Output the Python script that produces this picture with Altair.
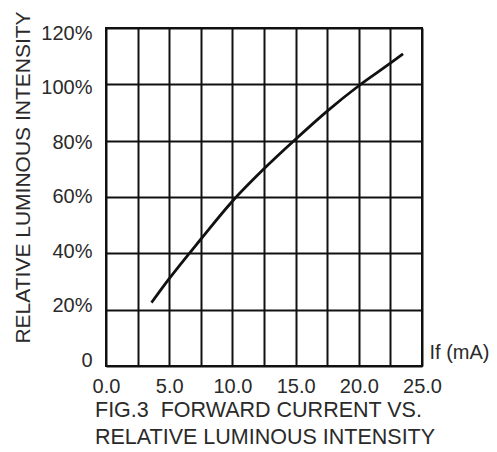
import altair as alt
import pandas as pd

# Curve
if_ma = [3.6, 5.0, 7.5, 10.0, 12.5, 15.0, 17.5, 20.0, 22.5, 23.5]
rel_intensity = [22.5, 31, 45, 58.5, 70, 80.5, 90.5, 99.5, 107.5, 110.8]

# Axis ticks
x_ticks = [0, 2.5, 5, 7.5, 10, 12.5, 15, 17.5, 20, 22.5, 25]
x_labelled = [0, 5, 10, 15, 20, 25]
y_ticks = [0, 20, 40, 60, 80, 100, 120]

x_title = "If (mA)"
y_title = "RELATIVE LUMINOUS INTENSITY"
caption = ["FIG.3\u00a0 FORWARD CURRENT VS.", "RELATIVE LUMINOUS INTENSITY"]

df = pd.DataFrame({"If": if_ma, "Rel": rel_intensity})

FONT = "Liberation Sans"
INK = "#111111"
TXT = "#2a2a2a"

x_label_expr = "indexof(" + str(x_labelled) + ", datum.value) >= 0 ? format(datum.value, '.1f') : ''"
y_label_expr = "datum.value == 0 ? '0' : datum.value + '%'"

chart = alt.Chart(df).mark_line(
    color=INK, strokeWidth=2.8, interpolate="monotone"
).encode(
    x=alt.X(
        "If:Q",
        scale=alt.Scale(domain=[0, 25], nice=False),
        axis=alt.Axis(
            values=x_ticks, labelExpr=x_label_expr, grid=True, gridColor=INK,
            gridWidth=2, gridOpacity=1, ticks=False, domain=False,
            labelFont=FONT, labelFontSize=20, labelColor=TXT, labelPadding=10,
            labelFlush=False, labelOverlap=False, labelBound=False,
            title=x_title, titleFont=FONT, titleFontSize=20, titleFontWeight="normal",
            titleColor=TXT, titleX=323, titleY=-8, titleAlign="left",
            titleBaseline="alphabetic", titleAngle=0,
        ),
    ),
    y=alt.Y(
        "Rel:Q",
        scale=alt.Scale(domain=[0, 120], nice=False),
        axis=alt.Axis(
            values=y_ticks, labelExpr=y_label_expr, grid=True, gridColor=INK,
            gridWidth=2, gridOpacity=1, ticks=False, domain=False,
            labelFont=FONT, labelFontSize=20, labelColor=TXT, labelPadding=14,
            labelOverlap=False, labelFlush=False,
            labelOffset={"expr": "-6 + datum.value * 0.095"},
            title=y_title, titleFont=FONT, titleFontSize=21, titleFontWeight="normal",
            titleColor=TXT, titleX=-83, titleY=149, titleAngle=270,
            titleAlign="center", titleBaseline="middle",
        ),
    ),
).properties(
    width=316,
    height=338,
    title=alt.TitleParams(
        text=caption, orient="bottom", anchor="start", frame="group", dx=-11,
        offset=4, font=FONT, fontSize=21.5, fontWeight="normal", color=TXT,
        lineHeight=26.5, baseline="top",
    ),
    autosize=alt.AutoSizeParams(type="none"),
    padding={"left": 98, "top": 20, "right": 67, "bottom": 86},
).configure_view(stroke=INK, strokeWidth=2)

chart.save("out.html", embed_options={"renderer": "svg", "actions": False})
